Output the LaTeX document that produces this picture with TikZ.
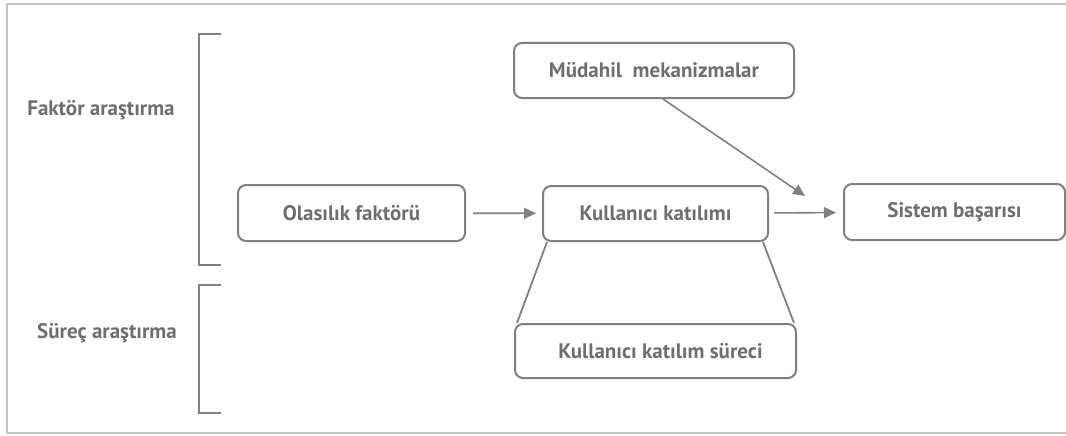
\documentclass[tikz,border=0pt]{standalone}
\usepackage{fontspec}
\setmainfont{PT Sans}
\usetikzlibrary{arrows.meta,calc}
\definecolor{boxgray}{HTML}{808080}
\definecolor{textgray}{HTML}{6E6E6E}
\definecolor{framegray}{HTML}{C4C4C4}
\tikzset{
  stagebox/.style={draw=boxgray, line width=2pt, rounded corners=8pt, inner sep=0pt, text=textgray, font=\fontsize{21}{23}\selectfont\bfseries},
  phaselabel/.style={text=textgray, font=\fontsize{21}{23}\selectfont\bfseries},
  flow/.style={draw=boxgray, line width=1.6pt, -{Triangle[length=12pt,width=11pt]}},
  link/.style={draw=boxgray, line width=1.8pt},
  brace/.style={draw=boxgray, line width=1.5pt},
}
\begin{document}
\begin{tikzpicture}[x=1pt,y=-1pt]
\useasboundingbox (0,0) rectangle (1066,436);
\draw[framegray, line width=2.5pt] (1066,4) -- (7,4) -- (7,433) -- (1066,433); % frame
\draw[brace] (221,34) -- (199,34) -- (199,265) -- (221,265); % faktor
\draw[brace] (221,285) -- (199,285) -- (199,413) -- (221,413); % surec
\node[phaselabel] (faktor) at (101,110) {Faktör araştırma};
\node[phaselabel] (surec) at (107,333) {Süreç araştırma};
\node[stagebox, minimum width=227pt, minimum height=56pt] (olas) at (351.5,213) {Olasılık faktörü};
\node[stagebox, minimum width=225pt, minimum height=55pt] (kat) at (655.5,213.5) {Kullanıcı katılımı};
\node[stagebox, minimum width=221pt, minimum height=56pt] (sis) at (954.5,212) {Sistem başarısı};
\node[stagebox, minimum width=280pt, minimum height=55pt] (mud) at (654,70.5) {Müdahil\ \ mekanizmalar};
\node[stagebox, minimum width=281pt, minimum height=54pt] (sur) at (655.5,351) {\hspace{10pt}Kullanıcı katılım süreci};
\coordinate (mudtip) at (805,196);
\draw[flow, shorten <=7pt, shorten >=6pt] (olas) -- (kat);
\draw[flow, shorten <=5pt, shorten >=7pt] (kat) -- (sis);
\draw[flow] ($(mud.south)+(9,0)$) -- (mudtip);
\draw[link] ($(kat.south west)+(5,0)$) -- ($(sur.north west)+(3,0)$);
\draw[link] ($(kat.south east)+(-6,0)$) -- ($(sur.north east)+(-3,0)$);
\end{tikzpicture}
\end{document}
